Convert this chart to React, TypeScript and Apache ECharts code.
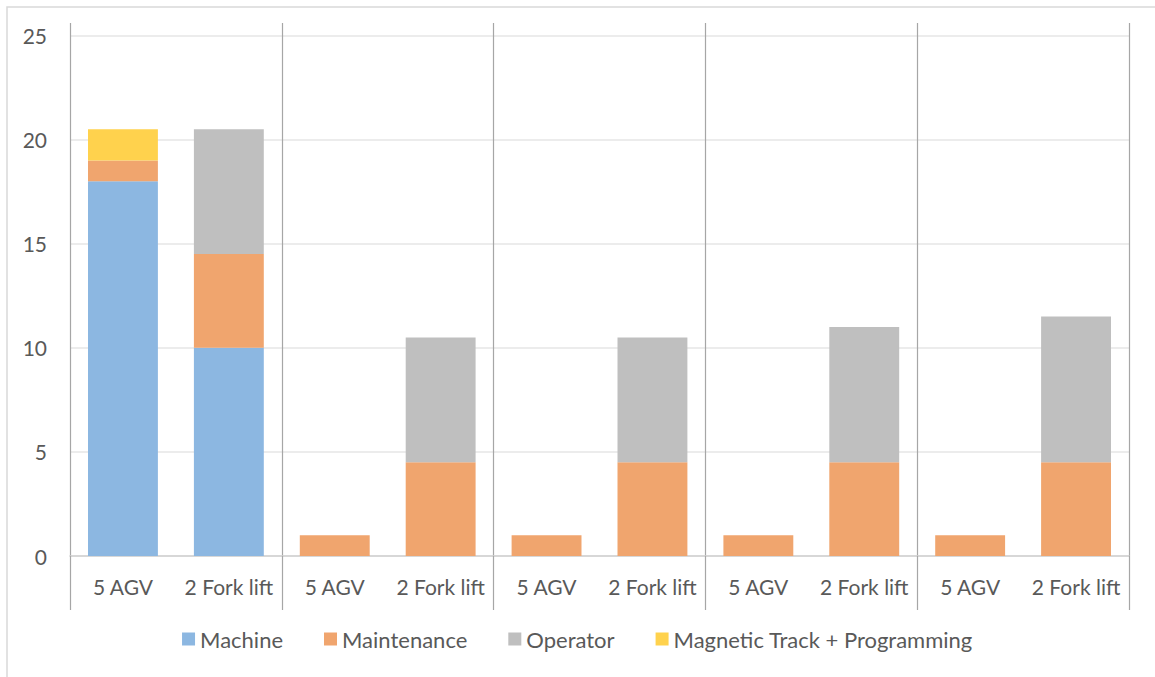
import React, { useEffect, useRef } from "react";
import * as echarts from "echarts";

const categories = [
  "5 AGV", "2 Fork lift",
  "5 AGV", "2 Fork lift",
  "5 AGV", "2 Fork lift",
  "5 AGV", "2 Fork lift",
  "5 AGV", "2 Fork lift",
];
const groups = ["", "", "", "", ""];

const machine = [18, 10, 0, 0, 0, 0, 0, 0, 0, 0];
const maintenance = [1, 4.5, 1, 4.5, 1, 4.5, 1, 4.5, 1, 4.5];
const operator = [0, 6, 0, 6, 0, 6, 0, 6.5, 0, 7];
const magneticTrack = [1.5, 0, 0, 0, 0, 0, 0, 0, 0, 0];

const yTicks = [0, 5, 10, 15, 20, 25];

const FONT = "Lato, 'Open Sans', sans-serif";
const TEXT = "#595959";

export default function App() {
  const ref = useRef<HTMLDivElement>(null);

  useEffect(() => {
    if (!ref.current) return;
    const chart = echarts.init(ref.current, undefined, { renderer: "svg" });

    const bar = (name: string, data: number[], color: string) => ({
      name,
      type: "bar",
      stack: "total",
      xAxisIndex: 0,
      barCategoryGap: "34%",
      data: data.map((v) => (v === 0 ? null : v)),
      itemStyle: { color },
    });

    chart.setOption({
      animation: false,
      textStyle: { fontFamily: FONT },
      graphic: [
        {
          type: "rect",
          shape: { x: 7, y: 7, width: 1400, height: 900 },
          style: { fill: "none", stroke: "#d9d9d9", lineWidth: 1.5 },
          silent: true,
        },
      ],
      grid: { left: 70, right: 26, top: 23, bottom: 121 },
      legend: {
        bottom: 22,
        left: "center",
        itemWidth: 13,
        itemHeight: 13,
        itemGap: 41,
        icon: "rect",
        textStyle: { color: TEXT, fontSize: 22, fontFamily: FONT },
        data: ["Machine", "Maintenance", "Operator", "Magnetic Track + Programming"],
      },
      xAxis: [
        {
          type: "category",
          position: "bottom",
          data: categories,
          axisLine: { show: true, lineStyle: { color: "#d0d0d0", width: 1.5 } },
          axisTick: { show: false },
          axisLabel: {
            color: TEXT,
            fontSize: 21,
            margin: 20,
            interval: 0,
            hideOverlap: false,
            fontFamily: FONT,
          },
          splitLine: { show: false },
        },
        {
          type: "category",
          position: "bottom",
          data: groups,
          axisLine: { show: false },
          axisTick: { show: true, length: 54, lineStyle: { color: "#a6a6a6", width: 1.2 } },
          axisLabel: { show: false },
          splitLine: { show: true, lineStyle: { color: "#a6a6a6", width: 1.2 } },
        },
      ],
      yAxis: {
        type: "value",
        min: 0,
        max: 25.6,
        interval: 5,
        axisLine: { show: false },
        axisTick: { show: false },
        axisLabel: {
          color: TEXT,
          fontSize: 21,
          margin: 23,
          fontFamily: FONT,
          showMaxLabel: false,
          formatter: (v: number) => (yTicks.includes(v) ? String(v) : ""),
        },
        splitLine: {
          show: true,
          showMaxLine: false,
          lineStyle: { color: "#e6e6e6", width: 1.5 },
        },
      },
      series: [
        bar("Machine", machine, "#8cb7e1"),
        bar("Maintenance", maintenance, "#f0a56e"),
        bar("Operator", operator, "#bfbfbf"),
        bar("Magnetic Track + Programming", magneticTrack, "#ffd24d"),
      ],
    });

    return () => chart.dispose();
  }, []);

  return (
    <div
      ref={ref}
      style={{ position: "fixed", left: 0, top: 0, width: 1155, height: 677, background: "#fff" }}
    />
  );
}
